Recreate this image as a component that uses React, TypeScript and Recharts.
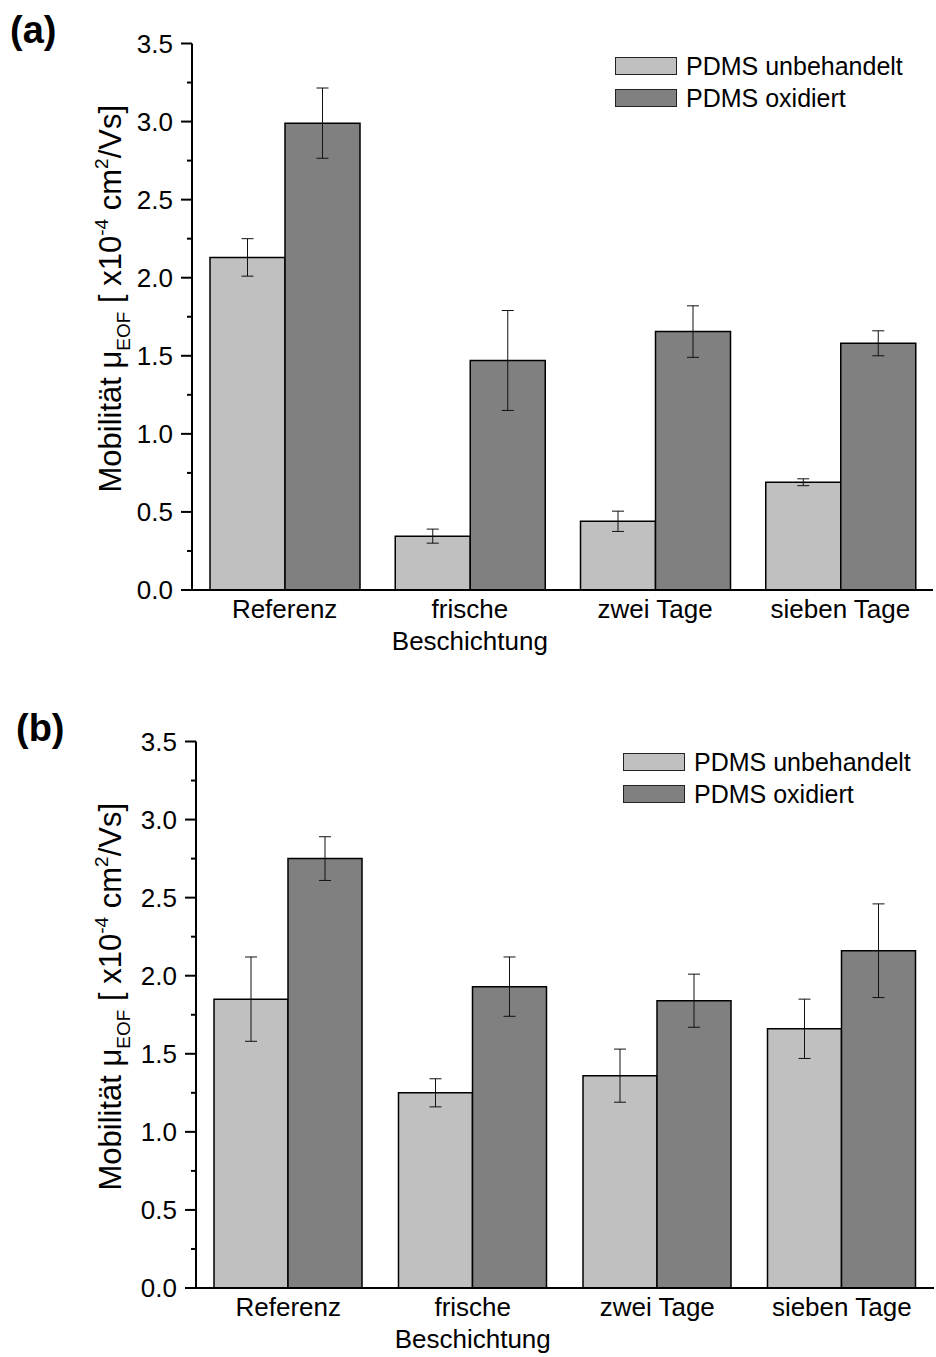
import { Bar, BarChart, ErrorBar, Legend, XAxis, YAxis } from 'recharts'

const FONT = '"Liberation Sans", Arial, sans-serif'
const LIGHT = '#c0c0c0'
const DARK = '#808080'

const CATEGORIES = ['Referenz', 'frische\nBeschichtung', 'zwei Tage', 'sieben Tage']
const SERIES_NAMES = ['PDMS unbehandelt', 'PDMS oxidiert']
const Y_TICKS = [0, 0.25, 0.5, 0.75, 1, 1.25, 1.5, 1.75, 2, 2.25, 2.5, 2.75, 3, 3.25, 3.5]
const GROUP_EDGES = [1, 2, 3]

// panel (a)
const A_RAW = [2.13, 0.345, 0.44, 0.69]
const A_RAW_ERR = [0.12, 0.045, 0.065, 0.022]
const A_OX = [2.99, 1.47, 1.655, 1.58]
const A_OX_ERR = [0.225, 0.32, 0.165, 0.08]

// panel (b)
const B_RAW = [1.85, 1.25, 1.36, 1.66]
const B_RAW_ERR = [0.27, 0.09, 0.17, 0.19]
const B_OX = [2.75, 1.93, 1.84, 2.16]
const B_OX_ERR = [0.14, 0.19, 0.17, 0.3]

function rows(raw: number[], rawErr: number[], ox: number[], oxErr: number[]) {
  return CATEGORIES.map((cat, i) => ({ cat, raw: raw[i], rawErr: rawErr[i], ox: ox[i], oxErr: oxErr[i] }))
}

function YTick({ x, y, payload }: any) {
  const v = payload.value as number
  const major = Math.abs(v * 2 - Math.round(v * 2)) < 1e-6
  return (
    <g>
      <line x1={x - (major ? 11 : 5)} x2={x} y1={y} y2={y} stroke="#000" strokeWidth={2} />
      {major && (
        <text x={x - 19} y={y + 9} textAnchor="end" fontSize={26} fontFamily={FONT} fill="#000">
          {v.toFixed(1)}
        </text>
      )}
    </g>
  )
}

function XTick({ x, y, payload }: any) {
  const lines = String(payload.value).split('\n')
  return (
    <text textAnchor="middle" fontSize={26} fontFamily={FONT} fill="#000">
      {lines.map((l, i) => (
        <tspan key={i} x={x} y={y + 28 + i * 32}>
          {l}
        </tspan>
      ))}
    </text>
  )
}

// faint marks at the group boundaries, no text
function EdgeTick({ x, y }: any) {
  return <line x1={x} x2={x} y1={y - 4} y2={y + 4} stroke="#888" strokeWidth={1} />
}

function YTitle(props: any) {
  const vb = props.viewBox || {}
  const cx = 121
  const cy = (vb.y ?? 43) + (vb.height ?? 547) / 2 - 18
  return (
    <text
      x={cx}
      y={cy}
      transform={`rotate(-90 ${cx} ${cy})`}
      textAnchor="middle"
      fontSize={31}
      fontFamily={FONT}
      fill="#000"
    >
      <tspan>Mobilität μ</tspan>
      <tspan dy={9} fontSize={19}>EOF</tspan>
      <tspan dy={-9}> [ x10</tspan>
      <tspan dy={-13} fontSize={19}>-4</tspan>
      <tspan dy={13}> cm</tspan>
      <tspan dy={-13} fontSize={19}>2</tspan>
      <tspan dy={13}>/Vs]</tspan>
    </text>
  )
}

function LegendBox({ payload }: any) {
  const items = [...(payload || [])].sort(
    (a: any, b: any) => SERIES_NAMES.indexOf(a.value) - SERIES_NAMES.indexOf(b.value),
  )
  return (
    <div style={{ fontFamily: FONT, fontSize: 25, color: '#000' }}>
      {items.map((p: any) => (
        <div key={p.value} style={{ display: 'flex', alignItems: 'center', height: 32 }}>
          <span
            style={{
              display: 'inline-block',
              width: 60,
              height: 16,
              background: p.color,
              border: '1px solid #222',
              marginRight: 9,
            }}
          />
          <span>{p.value}</span>
        </div>
      ))}
    </div>
  )
}

function Panel({
  data,
  height,
  axisWidth,
  plotWidth,
  xHeight,
  legendPos,
}: {
  data: ReturnType<typeof rows>
  height: number
  axisWidth: number
  plotWidth: number
  xHeight: number
  legendPos: { top: number; left: number }
}) {
  const frame = { stroke: '#000', strokeWidth: 2 }
  return (
    <BarChart
      width={936}
      height={height}
      data={data}
      margin={{ top: 43.5, right: 936 - axisWidth - plotWidth, bottom: 0, left: 0 }}
      barGap={0}
      barCategoryGap={18}
    >
      <XAxis
        xAxisId="edgesBottom"
        type="number"
        domain={[0, 4]}
        ticks={GROUP_EDGES}
        height={0}
        axisLine={false}
        tickLine={false}
        tickSize={0}
        tick={<EdgeTick />}
      />
      <XAxis
        dataKey="cat"
        height={xHeight}
        tick={<XTick />}
        tickLine={false}
        tickSize={0}
        tickMargin={0}
        axisLine={frame}
        interval={0}
      />
      <XAxis
        xAxisId="top"
        dataKey="cat"
        orientation="top"
        height={0}
        tick={false}
        tickLine={false}
        axisLine={frame}
      />
      <XAxis
        xAxisId="edgesTop"
        type="number"
        orientation="top"
        domain={[0, 4]}
        ticks={GROUP_EDGES}
        height={0}
        axisLine={false}
        tickLine={false}
        tickSize={0}
        tick={<EdgeTick />}
      />
      <YAxis
        domain={[0, 3.5]}
        ticks={Y_TICKS}
        width={axisWidth}
        tick={<YTick />}
        tickLine={false}
        tickSize={0}
        tickMargin={0}
        axisLine={frame}
        interval={0}
        label={(p: any) => <YTitle {...p} />}
      />
      <YAxis
        yAxisId="right"
        orientation="right"
        domain={[0, 3.5]}
        width={0}
        tick={false}
        tickLine={false}
        axisLine={frame}
      />
      <Legend
        layout="vertical"
        align="center"
        verticalAlign="middle"
        content={<LegendBox />}
        wrapperStyle={{ top: legendPos.top, left: legendPos.left, width: 'auto' }}
      />
      <Bar dataKey="raw" name={SERIES_NAMES[0]} fill={LIGHT} stroke="#000" strokeWidth={1.5} isAnimationActive={false}>
        <ErrorBar dataKey="rawErr" width={6} stroke="#111" strokeWidth={1} />
      </Bar>
      <Bar dataKey="ox" name={SERIES_NAMES[1]} fill={DARK} stroke="#000" strokeWidth={1.5} isAnimationActive={false}>
        <ErrorBar dataKey="oxErr" width={6} stroke="#111" strokeWidth={1} />
      </Bar>
    </BarChart>
  )
}

const panelLabel = (top: number, left: number) => ({
  position: 'absolute' as const,
  top,
  left,
  fontFamily: FONT,
  fontWeight: 'bold' as const,
  fontSize: 38,
  lineHeight: '38px',
})

export default function App() {
  const dataA = rows(A_RAW, A_RAW_ERR, A_OX, A_OX_ERR)
  const dataB = rows(B_RAW, B_RAW_ERR, B_OX, B_OX_ERR)
  return (
    <div
      style={{
        position: 'fixed',
        top: 0,
        left: 0,
        width: 936,
        height: 1357,
        overflow: 'hidden',
        background: '#fff',
        fontFamily: FONT,
      }}
    >
      <div style={{ position: 'absolute', top: 0, left: 0 }}>
        <Panel
          data={dataA}
          height={680}
          axisWidth={192}
          plotWidth={741}
          xHeight={90}
          legendPos={{ top: 50, left: 615 }}
        />
      </div>
      <div style={{ position: 'absolute', top: 698, left: 0 }}>
        <Panel
          data={dataB}
          height={659}
          axisWidth={196}
          plotWidth={738}
          xHeight={69}
          legendPos={{ top: 48, left: 623 }}
        />
      </div>
      <div style={panelLabel(11, 10)}>(a)</div>
      <div style={panelLabel(709, 16)}>(b)</div>
    </div>
  )
}
